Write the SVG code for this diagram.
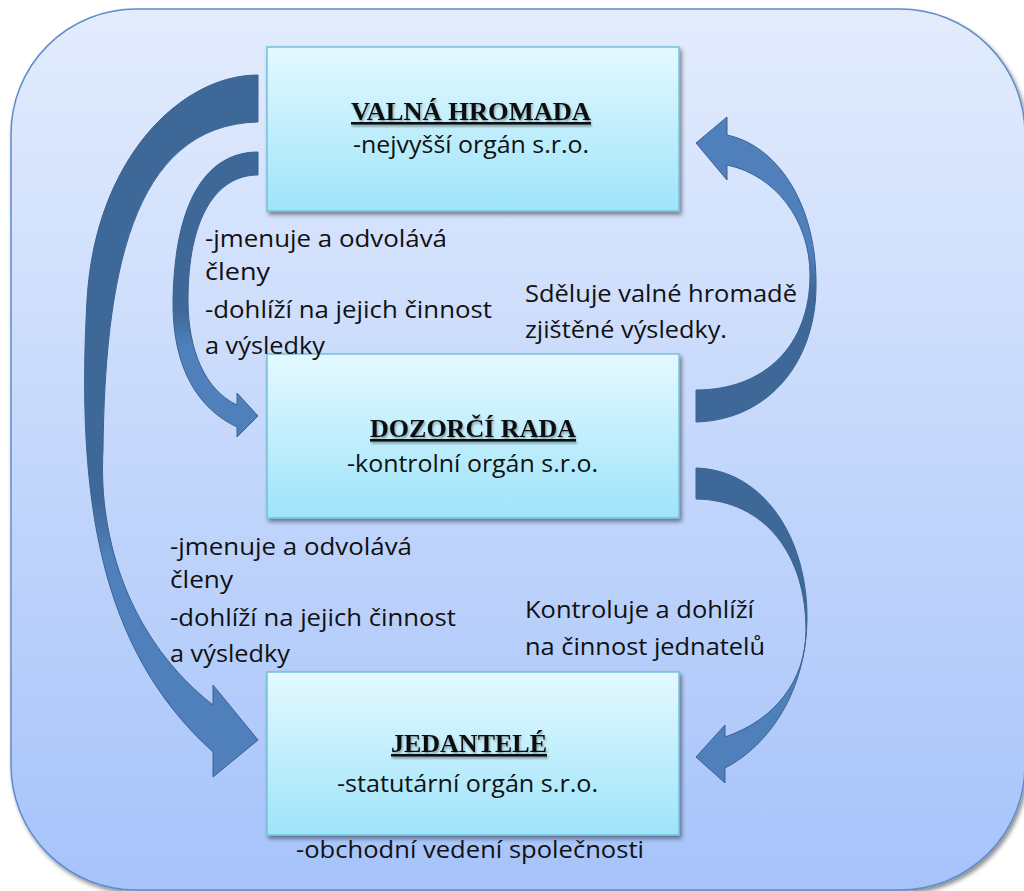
<svg xmlns="http://www.w3.org/2000/svg" width="1024" height="891" viewBox="0 0 1024 891">
<defs>
<linearGradient id="bg" x1="0" y1="0" x2="0" y2="1">
<stop offset="0" stop-color="#e3ecfd"/>
<stop offset="1" stop-color="#a6c3fa"/>
</linearGradient>
<linearGradient id="boxg" x1="0" y1="0" x2="0" y2="1">
<stop offset="0" stop-color="#e4f9ff"/>
<stop offset="1" stop-color="#9ee4fa"/>
</linearGradient>
<linearGradient id="gA" gradientUnits="userSpaceOnUse" x1="0" y1="75" x2="0" y2="780">
<stop offset="0" stop-color="#3e6898"/><stop offset="0.6" stop-color="#3e6898"/><stop offset="0.68" stop-color="#4f80bb"/><stop offset="1" stop-color="#4f80bb"/>
</linearGradient>
<linearGradient id="gB" gradientUnits="userSpaceOnUse" x1="0" y1="150" x2="0" y2="440">
<stop offset="0" stop-color="#3e6898"/><stop offset="0.55" stop-color="#3e6898"/><stop offset="0.68" stop-color="#4f80bb"/><stop offset="1" stop-color="#4f80bb"/>
</linearGradient>
<linearGradient id="gC" gradientUnits="userSpaceOnUse" x1="0" y1="422" x2="0" y2="115">
<stop offset="0" stop-color="#3e6898"/><stop offset="0.42" stop-color="#3e6898"/><stop offset="0.55" stop-color="#4f80bb"/><stop offset="1" stop-color="#4f80bb"/>
</linearGradient>
<linearGradient id="gD" gradientUnits="userSpaceOnUse" x1="0" y1="468" x2="0" y2="785">
<stop offset="0" stop-color="#3e6898"/><stop offset="0.45" stop-color="#3e6898"/><stop offset="0.58" stop-color="#4f80bb"/><stop offset="1" stop-color="#4f80bb"/>
</linearGradient>
<filter id="sh" x="-10%" y="-10%" width="120%" height="125%">
<feGaussianBlur in="SourceAlpha" stdDeviation="2"/>
<feOffset dx="2" dy="3" result="o"/>
<feComponentTransfer><feFuncA type="linear" slope="0.45"/></feComponentTransfer>
<feMerge><feMergeNode/><feMergeNode in="SourceGraphic"/></feMerge>
</filter>
<filter id="tsh" x="-5%" y="-20%" width="110%" height="150%">
<feGaussianBlur in="SourceAlpha" stdDeviation="0.8"/>
<feOffset dx="1" dy="1.5"/>
<feComponentTransfer><feFuncA type="linear" slope="0.35"/></feComponentTransfer>
<feMerge><feMergeNode/><feMergeNode in="SourceGraphic"/></feMerge>
</filter>
</defs>
<style>
.box{fill:url(#boxg);stroke:#74c0dc;stroke-width:1.5}
.title{font-family:"Liberation Serif",serif;font-weight:bold;font-size:26px;fill:#111;text-decoration:underline;text-anchor:start}
.sub{font-family:"Open Sans","Liberation Sans",sans-serif;font-size:23px;fill:#111}
.lbl{font-family:"Open Sans","Liberation Sans",sans-serif;font-size:23px;fill:#111}
.arr{stroke:#3a6292;stroke-width:1}
</style>
<rect x="11" y="9" width="1014" height="881" rx="125" ry="125" fill="url(#bg)" stroke="#5e8ccb" stroke-width="1.5" filter="url(#sh)"/>

<g id="connectors">
<path class="arr" fill="url(#gA)" d="M258,75 C180,75 95,160 87,300 C76,500 100,650 213,752 L213,777 L258,740 L213,685 L213,705 C130,640 98,540 103,450 C105,280 130,125 258,122 Z"/>
<path class="arr" fill="url(#gB)" d="M258,152 C210,152 175,195 173,300 C172,370 200,410 237,427 L237,437 L258,416 L237,393 L237,405 C205,390 188,350 188,300 C188,220 215,175 258,175 Z"/>
<path class="arr" fill="url(#gC)" d="M696,422 C770,420 818,360 816,280 C815,200 775,145 727,135 L727,117 L696,143 L727,180 L727,165 C775,175 810,220 810,275 C810,345 765,390 696,390 Z"/>
<path class="arr" fill="url(#gD)" d="M696,468 C765,470 808,540 807,620 C806,690 770,745 725,768 L725,783 L696,757 L725,725 L725,737 C775,720 806,680 806,630 C806,555 765,500 696,499 Z"/>
</g>

<g id="valna-hromada">
<rect class="box" x="267" y="47" width="412" height="164" filter="url(#sh)"/>
<text class="title" x="351" y="120" textLength="240" lengthAdjust="spacingAndGlyphs" filter="url(#tsh)">VALNÁ HROMADA</text>
<text class="sub" x="353" y="153" textLength="236" lengthAdjust="spacingAndGlyphs">-nejvyšší orgán s.r.o.</text>
</g>

<g id="dozorci-rada">
<rect class="box" x="267" y="354" width="412" height="164" filter="url(#sh)"/>
<text class="title" x="370" y="437" textLength="206" lengthAdjust="spacingAndGlyphs" filter="url(#tsh)">DOZORČÍ RADA</text>
<text class="sub" x="347" y="472" textLength="251" lengthAdjust="spacingAndGlyphs">-kontrolní orgán s.r.o.</text>
</g>

<g id="jednatele">
<rect class="box" x="267" y="672" width="412" height="163" filter="url(#sh)"/>
<text class="title" x="391" y="752" textLength="156" lengthAdjust="spacingAndGlyphs" filter="url(#tsh)">JEDANTELÉ</text>
<text class="sub" x="337" y="792" textLength="261" lengthAdjust="spacingAndGlyphs">-statutární orgán s.r.o.</text>
<text class="sub" x="296" y="858" textLength="348" lengthAdjust="spacingAndGlyphs">-obchodní vedení společnosti</text>
</g>

<g id="labels">
<text class="lbl" x="205" y="247" textLength="242" lengthAdjust="spacingAndGlyphs">-jmenuje a odvolává</text>
<text class="lbl" x="205" y="280" textLength="65" lengthAdjust="spacingAndGlyphs">členy</text>
<text class="lbl" x="205" y="318" textLength="287" lengthAdjust="spacingAndGlyphs">-dohlíží na jejich činnost</text>
<text class="lbl" x="205" y="354" textLength="120" lengthAdjust="spacingAndGlyphs">a výsledky</text>

<text class="lbl" x="170" y="555" textLength="242" lengthAdjust="spacingAndGlyphs">-jmenuje a odvolává</text>
<text class="lbl" x="170" y="588" textLength="63" lengthAdjust="spacingAndGlyphs">členy</text>
<text class="lbl" x="170" y="626" textLength="286" lengthAdjust="spacingAndGlyphs">-dohlíží na jejich činnost</text>
<text class="lbl" x="170" y="662" textLength="120" lengthAdjust="spacingAndGlyphs">a výsledky</text>

<text class="lbl" x="525" y="302" textLength="272" lengthAdjust="spacingAndGlyphs">Sděluje valné hromadě</text>
<text class="lbl" x="525" y="338" textLength="202" lengthAdjust="spacingAndGlyphs">zjištěné výsledky.</text>

<text class="lbl" x="525" y="618" textLength="229" lengthAdjust="spacingAndGlyphs">Kontroluje a dohlíží</text>
<text class="lbl" x="525" y="655" textLength="240" lengthAdjust="spacingAndGlyphs">na činnost jednatelů</text>
</g>
</svg>
